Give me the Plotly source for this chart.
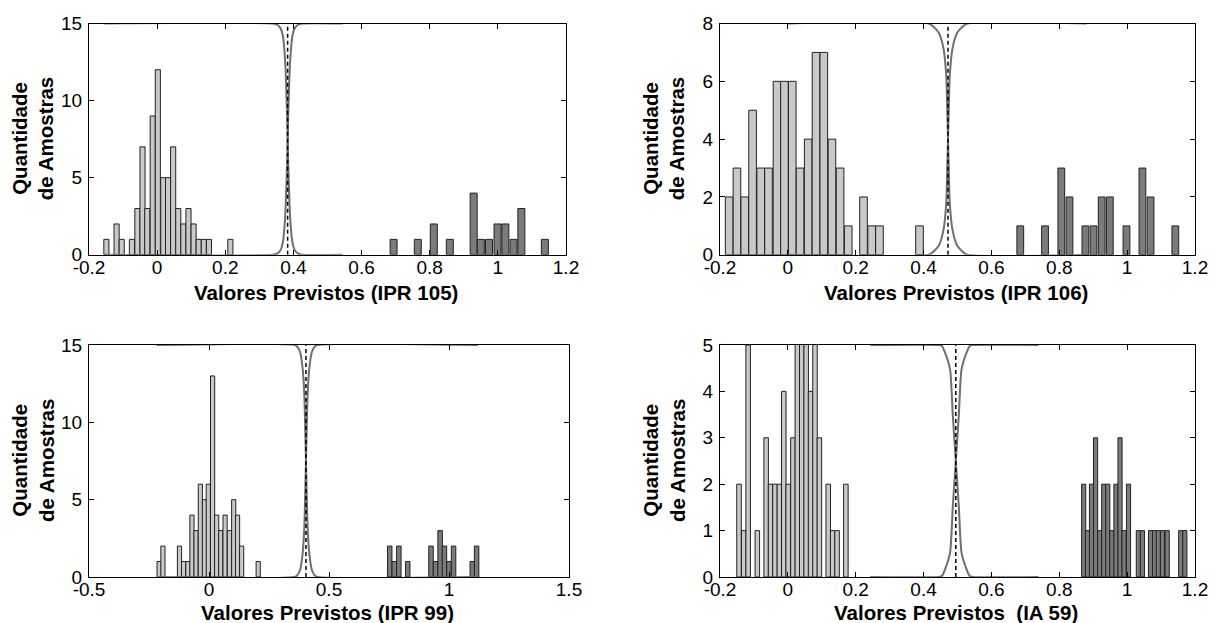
import plotly.graph_objects as go

W, H = 1213, 623
FONT = "Arial, Liberation Sans, sans-serif"

# ---------------- data ----------------
# Panel 1 : IPR 105
p1_cls_x = [-0.149, -0.119, -0.104, -0.074, -0.058, -0.043, -0.029, -0.013, 0.002, 0.018,
            0.032, 0.047, 0.062, 0.077, 0.092, 0.107, 0.122, 0.137, 0.152, 0.215]
p1_cls_n = [1, 2, 1, 1, 3, 7, 3, 9, 12, 5, 5, 7, 3, 2, 3, 2, 1, 1, 1, 1]
p1_oth_x = [0.694, 0.765, 0.812, 0.859, 0.929, 0.950, 0.974, 0.999, 1.022, 1.046, 1.069, 1.138]
p1_oth_n = [1, 1, 2, 1, 4, 1, 1, 2, 2, 1, 3, 1]
p1_thr = 0.383
p1_curve_x = [-0.155, 0.340, 0.352, 0.362, 0.369, 0.376, 0.381, 0.383, 0.385, 0.390, 0.397, 0.404, 0.414, 0.426, 0.544]
p1_curve_p = [0, 0, 0.005, 0.02, 0.054, 0.17, 0.38, 0.5, 0.62, 0.83, 0.946, 0.98, 0.995, 1, 1]

# Panel 2 : IPR 106
p2_cls_x = [-0.173, -0.150, -0.127, -0.104, -0.080, -0.057, -0.032, -0.010, 0.013, 0.036,
            0.060, 0.083, 0.106, 0.130, 0.154, 0.178, 0.223, 0.247, 0.270, 0.388]
p2_cls_n = [2, 3, 2, 5, 3, 3, 6, 6, 6, 3, 4, 7, 7, 4, 3, 1, 2, 1, 1, 1]
p2_oth_x = [0.685, 0.758, 0.806, 0.830, 0.877, 0.901, 0.925, 0.949, 0.998, 1.045, 1.069, 1.142]
p2_oth_n = [1, 1, 3, 2, 1, 1, 2, 2, 1, 3, 2, 1]
p2_thr = 0.472
p2_curve_x = [0.0, 0.415, 0.430, 0.445, 0.459, 0.467, 0.470, 0.472, 0.474, 0.477, 0.485, 0.499, 0.514, 0.529, 0.88]
p2_curve_p = [0, 0, 0.015, 0.04, 0.11, 0.23, 0.39, 0.5, 0.61, 0.77, 0.89, 0.96, 0.985, 1, 1]

# Panel 3 : IPR 99
p3_cls_x = [-0.208, -0.192, -0.123, -0.106, -0.088, -0.071, -0.054, -0.036, -0.019, -0.003,
            0.015, 0.032, 0.049, 0.067, 0.085, 0.103, 0.119, 0.136, 0.205]
p3_cls_n = [1, 2, 2, 1, 1, 4, 3, 6, 5, 6, 13, 4, 3, 4, 3, 5, 4, 2, 1]
p3_oth_x = [0.753, 0.772, 0.791, 0.828, 0.925, 0.944, 0.963, 0.981, 1.000, 1.019, 1.097, 1.115]
p3_oth_n = [2, 1, 2, 1, 2, 1, 3, 2, 1, 2, 1, 2]
p3_thr = 0.404
p3_curve_x = [-0.218, 0.358, 0.368, 0.379, 0.390, 0.397, 0.404, 0.411, 0.418, 0.429, 0.440, 0.450, 1.12]
p3_curve_p = [0, 0, 0.008, 0.029, 0.10, 0.21, 0.5, 0.79, 0.90, 0.971, 0.992, 1, 1]

# Panel 4 : IA 59
p4_cls_x = [-0.144, -0.130, -0.117, -0.090, -0.064, -0.051, -0.038, -0.025, -0.012, 0.001,
            0.015, 0.028, 0.041, 0.054, 0.067, 0.080, 0.093, 0.119, 0.132, 0.145, 0.171]
p4_cls_n = [2, 1, 5, 1, 3, 2, 2, 2, 4, 2, 3, 6, 7, 6, 4, 6, 3, 2, 1, 1, 2]
p4_oth_x = [0.872, 0.883, 0.895, 0.907, 0.919, 0.931, 0.943, 0.955, 0.967, 0.979, 0.991,
            1.004, 1.033, 1.045, 1.069, 1.081, 1.092, 1.104, 1.118, 1.158, 1.170]
p4_oth_n = [2, 1, 2, 3, 1, 2, 2, 1, 2, 3, 1, 2, 1, 1, 1, 1, 1, 1, 1, 1, 1]
p4_thr = 0.495
p4_curve_x = [0.243, 0.445, 0.454, 0.463, 0.478, 0.486, 0.495, 0.504, 0.512, 0.527, 0.536, 0.545, 0.739]
p4_curve_p = [0, 0, 0.004, 0.032, 0.104, 0.30, 0.5, 0.70, 0.896, 0.968, 0.996, 1, 1]

x_titles = ["Valores Previstos (IPR 105)", "Valores Previstos (IPR 106)",
            "Valores Previstos (IPR 99)", "Valores Previstos \u00a0(IA 59)"]
y_title = "Quantidade<br>de Amostras"

x_ticks_a = [-0.2, 0, 0.2, 0.4, 0.6, 0.8, 1, 1.2]
x_ticks_a_txt = ["-0.2", "0", "0.2", "0.4", "0.6", "0.8", "1", "1.2"]
x_ticks_b = [-0.5, 0, 0.5, 1, 1.5]
x_ticks_b_txt = ["-0.5", "0", "0.5", "1", "1.5"]

panels = [
    dict(cx=p1_cls_x, cn=p1_cls_n, ox=p1_oth_x, on=p1_oth_n, thr=p1_thr, kx=p1_curve_x, kp=p1_curve_p,
         ymax=15, yt=[0, 5, 10, 15], xr=[-0.2, 1.2], xt=x_ticks_a, xtt=x_ticks_a_txt, cw=0.0150, ow=0.0205,
         px=(89, 566), py=(23.5, 254.8), ty=293),
    dict(cx=p2_cls_x, cn=p2_cls_n, ox=p2_oth_x, on=p2_oth_n, thr=p2_thr, kx=p2_curve_x, kp=p2_curve_p,
         ymax=8, yt=[0, 2, 4, 6, 8], xr=[-0.2, 1.2], xt=x_ticks_a, xtt=x_ticks_a_txt, cw=0.0225, ow=0.0200,
         px=(720, 1195), py=(23.5, 254.8), ty=293),
    dict(cx=p3_cls_x, cn=p3_cls_n, ox=p3_oth_x, on=p3_oth_n, thr=p3_thr, kx=p3_curve_x, kp=p3_curve_p,
         ymax=15, yt=[0, 5, 10, 15], xr=[-0.5, 1.5], xt=x_ticks_b, xtt=x_ticks_b_txt, cw=0.0174, ow=0.0187,
         px=(89, 569), py=(345, 577), ty=612),
    dict(cx=p4_cls_x, cn=p4_cls_n, ox=p4_oth_x, on=p4_oth_n, thr=p4_thr, kx=p4_curve_x, kp=p4_curve_p,
         ymax=5, yt=[0, 1, 2, 3, 4, 5], xr=[-0.2, 1.2], xt=x_ticks_a, xtt=x_ticks_a_txt, cw=0.0133, ow=0.0122,
         px=(720, 1195), py=(345, 577), ty=612),
]

fig = go.Figure()
annotations = []
layout_axes = {}

for i, p in enumerate(panels):
    n = "" if i == 0 else str(i + 1)
    xa, ya = "x" + n, "y" + n
    edge = dict(color="#222222", width=1)
    fig.add_trace(go.Bar(x=p["cx"], y=p["cn"], width=p["cw"], xaxis=xa, yaxis=ya,
                         marker=dict(color="#c9c9c9", line=edge), showlegend=False))
    fig.add_trace(go.Bar(x=p["ox"], y=p["on"], width=p["ow"], xaxis=xa, yaxis=ya,
                         marker=dict(color="#7b7b7b", line=edge), showlegend=False))
    c1 = [p["ymax"] * v for v in p["kp"]]
    c2 = [p["ymax"] * (1 - v) for v in p["kp"]]
    for cy in (c1, c2):
        fig.add_trace(go.Scatter(x=p["kx"], y=cy, mode="lines", xaxis=xa, yaxis=ya,
                                 line=dict(color="#6f6f6f", width=2, shape="spline", smoothing=0.6),
                                 showlegend=False, hoverinfo="skip"))
    fig.add_trace(go.Scatter(x=[p["thr"], p["thr"]], y=[0, p["ymax"]], mode="lines", xaxis=xa, yaxis=ya,
                             line=dict(color="#000000", width=1.5, dash="4px,3px"),
                             showlegend=False, hoverinfo="skip"))

    x0, x1 = p["px"]
    y0, y1 = p["py"]
    common = dict(showline=True, linecolor="#000000", linewidth=1, mirror="ticks", automargin=False,
                  ticks="inside", ticklen=5, tickcolor="#000000", showgrid=False, zeroline=False,
                  tickfont=dict(family=FONT, size=19, color="#000000"))
    layout_axes["xaxis" + n] = dict(common, domain=[x0 / W, x1 / W], range=p["xr"], anchor=ya,
                                    tickvals=p["xt"], ticktext=p["xtt"], ticklabelstandoff=-5)
    layout_axes["yaxis" + n] = dict(common, domain=[1 - y1 / H, 1 - y0 / H], range=[0, p["ymax"]], anchor=xa,
                                    tickvals=p["yt"], ticktext=[str(v) for v in p["yt"]], ticklabelstandoff=2)

    cx = (x0 + x1) / 2
    annotations.append(dict(text=x_titles[i], xref="paper", yref="paper", x=(cx - 2) / W,
                            y=1 - p["ty"] / H, xanchor="center", yanchor="middle", showarrow=False,
                            font=dict(family=FONT, size=20.5, color="#000000", weight="bold")))
    annotations.append(dict(text=y_title, xref="paper", yref="paper", x=(x0 - 56) / W,
                            y=1 - ((y0 + y1) / 2) / H, xanchor="center", yanchor="middle", showarrow=False,
                            textangle=-90,
                            font=dict(family=FONT, size=20.5, color="#000000", weight="bold")))

fig.update_layout(template="none", width=W, height=H, margin=dict(l=0, r=0, t=0, b=0, pad=0),
                  barmode="overlay", paper_bgcolor="white", plot_bgcolor="white",
                  annotations=annotations, **layout_axes)

fig.write_html("out.html")
